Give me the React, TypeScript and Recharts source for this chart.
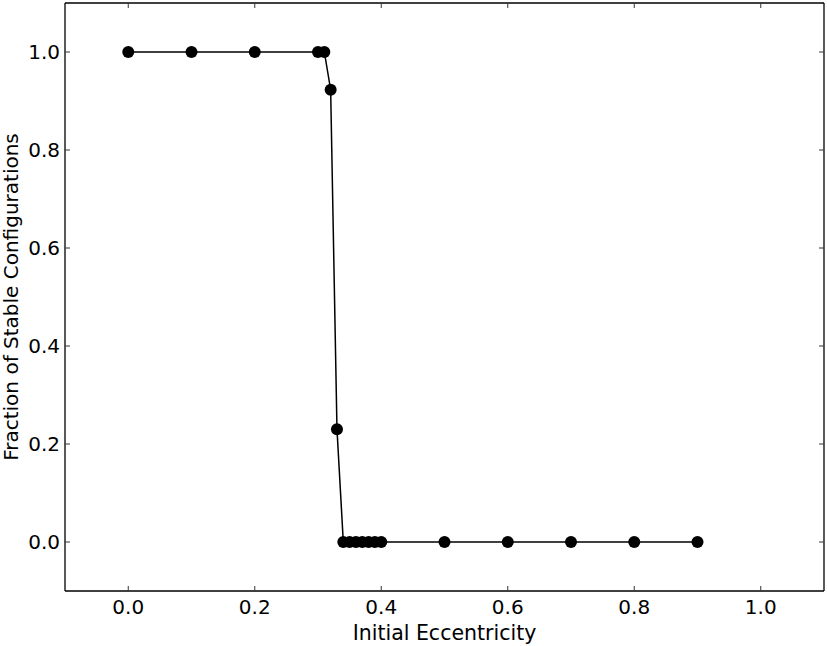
import { LineChart, Line, XAxis, YAxis } from 'recharts';

const eccentricity = [0, 0.1, 0.2, 0.3, 0.31, 0.32, 0.33, 0.34, 0.35, 0.36, 0.37, 0.38, 0.39, 0.4, 0.5, 0.6, 0.7, 0.8, 0.9];
const stableFraction = [1, 1, 1, 1, 1, 0.923, 0.23, 0, 0, 0, 0, 0, 0, 0, 0, 0, 0, 0, 0];

const xTicks = [0, 0.2, 0.4, 0.6, 0.8, 1.0];
const yTicks = [0, 0.2, 0.4, 0.6, 0.8, 1.0];

const data = eccentricity.map((e, i) => ({ e, f: stableFraction[i] }));

const font = '"DejaVu Sans", sans-serif';

// ticks point inward, labels sit outside
const BottomTick = ({ x, y, payload }: any) => (
  <g>
    <line x1={x} y1={y} x2={x} y2={y - 5} stroke="#333" strokeWidth={1} />
    <text x={x} y={y + 23} textAnchor="middle" fontSize={20} fontFamily={font} fill="#000">
      {payload.value.toFixed(1)}
    </text>
  </g>
);

const LeftTick = ({ x, y, payload }: any) => (
  <g>
    <line x1={x} y1={y} x2={x + 5} y2={y} stroke="#333" strokeWidth={1} />
    <text x={x - 5} y={y + 7} textAnchor="end" fontSize={20} fontFamily={font} fill="#000">
      {payload.value.toFixed(1)}
    </text>
  </g>
);

const TopTick = ({ x, y }: any) => (
  <line x1={x} y1={y} x2={x} y2={y + 5} stroke="#333" strokeWidth={1} />
);

const RightTick = ({ x, y }: any) => (
  <line x1={x} y1={y} x2={x - 5} y2={y} stroke="#333" strokeWidth={1} />
);

const axisLine = { stroke: '#000', strokeWidth: 1.3 };

export default function App() {
  return (
    <div style={{ position: 'absolute', left: 0, top: 0, background: '#fff' }}>
      <LineChart width={827} height={646} data={data} margin={{ top: 2, right: 2, bottom: 0, left: 0 }}>
        <XAxis
          dataKey="e"
          type="number"
          domain={[-0.1, 1.1]}
          ticks={xTicks}
          allowDataOverflow
          height={55}
          tickSize={0}
          tickMargin={0}
          tickLine={false}
          axisLine={axisLine}
          tick={<BottomTick />}
          label={{ value: 'Initial Eccentricity', position: 'insideBottom', offset: 6, fontSize: 20.5, fontFamily: font, fill: '#000' }}
        />
        <XAxis
          xAxisId="top"
          orientation="top"
          dataKey="e"
          type="number"
          domain={[-0.1, 1.1]}
          ticks={xTicks}
          allowDataOverflow
          height={1}
          tickSize={0}
          tickMargin={0}
          tickLine={false}
          axisLine={axisLine}
          tick={<TopTick />}
        />
        <YAxis
          type="number"
          domain={[-0.1, 1.1]}
          ticks={yTicks}
          allowDataOverflow
          width={65}
          tickSize={0}
          tickMargin={0}
          tickLine={false}
          axisLine={axisLine}
          tick={<LeftTick />}
          label={{ value: 'Fraction of Stable Configurations', angle: -90, position: 'insideLeft', offset: 11, fontSize: 20, fontFamily: font, fill: '#000', style: { textAnchor: 'middle' } }}
        />
        <YAxis
          yAxisId="right"
          orientation="right"
          type="number"
          domain={[-0.1, 1.1]}
          ticks={yTicks}
          allowDataOverflow
          width={1}
          tickSize={0}
          tickMargin={0}
          tickLine={false}
          axisLine={axisLine}
          tick={<RightTick />}
        />
        <Line
          dataKey="f"
          type="linear"
          stroke="#000"
          strokeWidth={1.5}
          dot={{ r: 6, fill: '#000', stroke: '#000', strokeWidth: 0 }}
          isAnimationActive={false}
        />
      </LineChart>
    </div>
  );
}
